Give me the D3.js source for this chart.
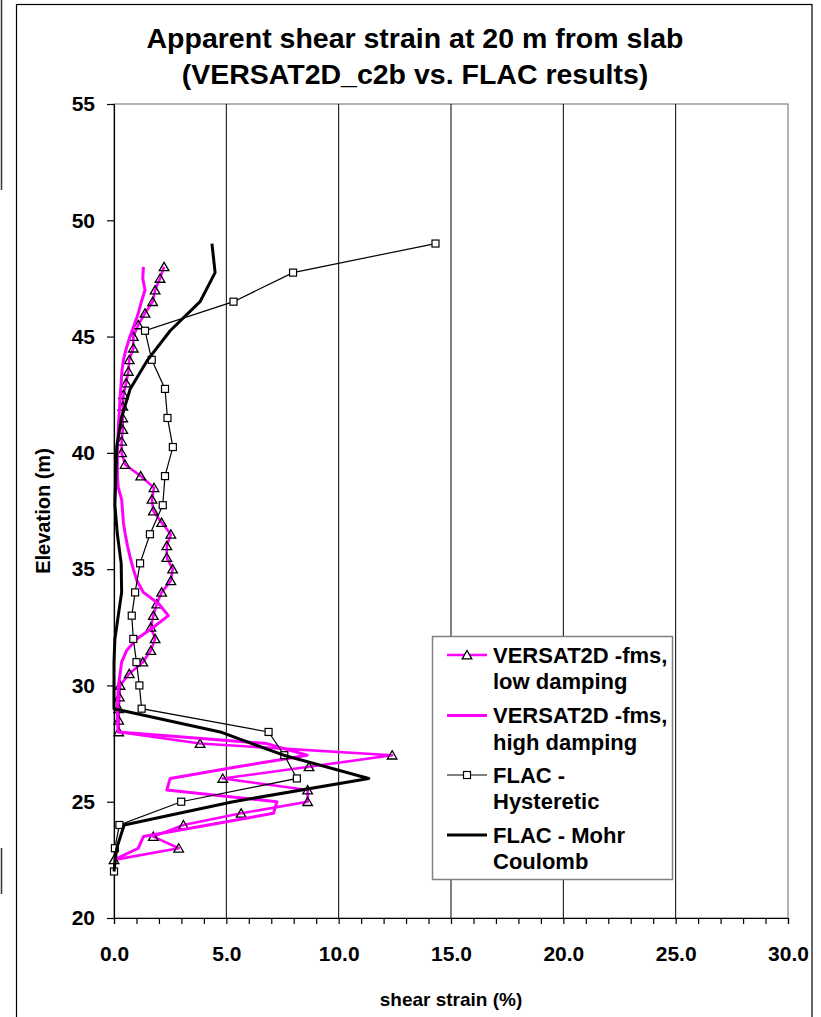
<!DOCTYPE html>
<html><head><meta charset="utf-8">
<script src="https://cdn.jsdelivr.net/npm/d3@7"></script>
<style>
body{margin:0;background:#fff}
svg{display:block;font-family:"Liberation Sans",Arial,Helvetica,sans-serif;font-weight:bold}
</style>
</head><body>
<svg id="c" width="821" height="1017"></svg>
<script>
// ---- data ----
const titleLines = ["Apparent shear strain at 20 m from slab", "(VERSAT2D_c2b vs. FLAC results)"];
const xTitle = "shear strain (%)";
const yTitle = "Elevation (m)";
const xTicks = [0, 5, 10, 15, 20, 25, 30];
const xMinorTicks = [1,2,3,4,6,7,8,9,11,12,13,14,16,17,18,19,21,22,23,24,26,27,28,29];
const yTicks = [20, 25, 30, 35, 40, 45, 50, 55];
const seriesNames = ["VERSAT2D -fms,|low damping", "VERSAT2D -fms,|high damping", "FLAC -|Hysteretic", "FLAC - Mohr|Coulomb"];

const versatElev = [48,47.5,47,46.5,46,45.5,45,44.5,44,43.5,43,42.5,42,41.5,41,40.5,40,39.5,39,38.5,38,37.5,37,36.5,36,35.5,35,34.5,34,33.5,33,32.5,32,31.5,31,30.5,30,29.5,29,28.5,28,27.5,27,26.5,26,25.5,25,24.5,24,23.5,23,22.5];
const versatLow  = [2.23,2.05,1.83,1.72,1.38,1.08,0.86,0.86,0.68,0.64,0.54,0.42,0.39,0.39,0.39,0.34,0.34,0.49,1.19,1.78,1.69,1.75,2.12,2.53,2.35,2.35,2.61,2.53,2.12,1.90,1.75,1.64,1.83,1.64,1.28,0.68,0.27,0.24,0.21,0.21,0.21,3.83,12.38,8.68,4.84,8.62,8.62,5.66,3.09,1.75,2.88,0.0];
const versatHigh = [1.31,1.28,1.38,1.22,1.08,0.90,0.71,0.55,0.42,0.35,0.32,0.28,0.25,0.22,0.19,0.17,0.15,0.15,0.15,0.19,0.34,0.38,0.42,0.50,0.60,0.72,0.86,1.02,1.31,2.00,2.42,1.75,1.01,0.56,0.34,0.27,0.20,0.17,0.15,0.15,0.19,6.80,8.60,5.50,2.50,2.35,7.25,7.10,4.20,1.31,1.08,0.0];

const flacElev = [49,47.75,46.5,45.25,44,42.75,41.5,40.25,39,37.75,36.5,35.25,34,33,32,31,30,29,28,27,26,25,24,23,22];
const flacHyst = [14.31,7.97,5.32,1.38,1.68,2.27,2.38,2.62,2.27,2.17,1.60,1.16,0.94,0.79,0.86,1.00,1.13,1.23,6.88,7.58,8.14,2.99,0.24,0.04,0.0];
const flacMC   = [4.36,4.50,3.83,2.50,1.50,0.72,0.33,0.12,0.08,0.04,0.15,0.32,0.34,0.19,0.04,0,0,0,4.73,7.55,11.34,5.30,0.45,0.12,0.0];

// ---- drawing ----
const svg = d3.select("#c");
const M = {left:114, right:788, top:104, bottom:918};
const x = d3.scaleLinear().domain([0,30]).range([M.left, M.right]);
const y = d3.scaleLinear().domain([20,55]).range([M.bottom, M.top]);
const MAG = "#ff00ff";
const FONT = '"Liberation Sans",Arial,sans-serif';

// outer chart border + stray edge line of neighbouring object
svg.append("rect").attr("x",16.5).attr("y",4.5).attr("width",795.5).attr("height",1030)
  .attr("fill","none").attr("stroke","#000").attr("stroke-width",1.2);
svg.append("line").attr("x1",1.5).attr("x2",1.5).attr("y1",0).attr("y2",190).attr("stroke","#333").attr("stroke-width",1.5);
svg.append("line").attr("x1",1.5).attr("x2",1.5).attr("y1",848).attr("y2",894).attr("stroke","#333").attr("stroke-width",1.5);

// title
svg.append("g").selectAll("text").data(titleLines).join("text")
  .attr("x",415).attr("y",(d,i)=>48+i*36).attr("text-anchor","middle")
  .attr("font-size",28.5).text(d=>d);

// plot border
svg.append("rect").attr("x",M.left).attr("y",M.top).attr("width",M.right-M.left).attr("height",M.bottom-M.top)
  .attr("fill","none").attr("stroke","#808080").attr("stroke-width",1.2);

// vertical gridlines
svg.append("g").selectAll("line").data(xTicks.filter(v=>v>0 && v<30)).join("line")
  .attr("x1",d=>x(d)).attr("x2",d=>x(d)).attr("y1",M.top).attr("y2",M.bottom)
  .attr("stroke","#000").attr("stroke-width",1);

// axes
const yAxis = d3.axisLeft(y).tickValues(yTicks).tickSize(7).tickPadding(12).tickFormat(d3.format("d"));
const gy = svg.append("g").attr("transform",`translate(${M.left},0)`).call(yAxis);
gy.select(".domain").attr("stroke","#000").attr("stroke-width",1.2);
gy.selectAll(".tick line").attr("stroke","#000").attr("stroke-width",1.2);
gy.selectAll(".tick text").attr("font-size",21).attr("font-weight","bold").attr("fill","#000")
  .attr("font-family",FONT);

const xAxis = d3.axisBottom(x).tickValues(xTicks).tickSize(6).tickPadding(22).tickFormat(d3.format(".1f"));
const gx = svg.append("g").attr("transform",`translate(0,${M.bottom})`).call(xAxis);
gx.select(".domain").attr("stroke","#000").attr("stroke-width",1.2);
gx.selectAll(".tick line").attr("stroke","#000").attr("stroke-width",1.2);
gx.selectAll(".tick text").attr("font-size",21).attr("font-weight","bold").attr("fill","#000")
  .attr("font-family",FONT);

const xMinor = d3.axisBottom(x).tickValues(xMinorTicks).tickSize(6).tickFormat("");
const gxm = svg.append("g").attr("transform",`translate(0,${M.bottom})`).call(xMinor);
gxm.select(".domain").remove();
gxm.selectAll(".tick line").attr("stroke","#000").attr("stroke-width",1.2);

// axis titles
svg.append("text").attr("x",(M.left+M.right)/2).attr("y",1006).attr("text-anchor","middle")
  .attr("font-size",19).text(xTitle);
svg.append("text").attr("transform",`translate(50,${(M.top+M.bottom)/2}) rotate(-90)`)
  .attr("text-anchor","middle").attr("font-size",20).text(yTitle);

// series
const mk = (E,V) => E.map((e,i)=>({e, v:V[i]}));
const lowData = mk(versatElev, versatLow);
const highData = mk(versatElev, versatHigh);
const hystData = mk(flacElev, flacHyst);
const mcData = mk(flacElev, flacMC);
const line = d3.line().x(d=>x(d.v)).y(d=>y(d.e));
const triPath = "M0,-4.5L4.8,3.8L-4.8,3.8Z";

const plot = svg.append("g");
// low damping (line + triangles)
plot.append("path").datum(lowData).attr("d",line).attr("fill","none").attr("stroke",MAG)
  .attr("stroke-width",2.6).attr("stroke-linejoin","round");
plot.append("g").selectAll("path").data(lowData).join("path")
  .attr("transform",d=>`translate(${x(d.v)},${y(d.e)})`).attr("d",triPath)
  .attr("fill","none").attr("stroke","#000").attr("stroke-width",1.3);
// high damping
plot.append("path").datum(highData).attr("d",line).attr("fill","none").attr("stroke",MAG)
  .attr("stroke-width",3).attr("stroke-linejoin","round");
// FLAC hysteretic
plot.append("path").datum(hystData).attr("d",line).attr("fill","none").attr("stroke","#000")
  .attr("stroke-width",1.2);
plot.append("g").selectAll("rect").data(hystData).join("rect")
  .attr("x",d=>x(d.v)-3.5).attr("y",d=>y(d.e)-3.5).attr("width",7).attr("height",7)
  .attr("fill","#fff").attr("stroke","#000").attr("stroke-width",1.2);
// FLAC Mohr Coulomb
plot.append("path").datum(mcData).attr("d",line).attr("fill","none").attr("stroke","#000")
  .attr("stroke-width",3).attr("stroke-linejoin","round");

// legend
const lg = svg.append("g");
lg.append("rect").attr("x",432.5).attr("y",636.5).attr("width",240).attr("height",243)
  .attr("fill","#fff").attr("stroke","#808080").attr("stroke-width",1.5);
const legY = [655, 715.5, 775, 835];
const legStyle = [
  {stroke:MAG, w:2.6, marker:"tri"},
  {stroke:MAG, w:3, marker:null},
  {stroke:"#000", w:1.2, marker:"sq"},
  {stroke:"#000", w:3, marker:null}
];
seriesNames.forEach((name,i)=>{
  const cy = legY[i], st = legStyle[i];
  lg.append("line").attr("x1",447).attr("x2",487).attr("y1",cy).attr("y2",cy)
    .attr("stroke",st.stroke).attr("stroke-width",st.w);
  if(st.marker==="tri") lg.append("path").attr("transform",`translate(467,${cy})`).attr("d",triPath)
    .attr("fill","#fff").attr("stroke","#000").attr("stroke-width",1.3);
  if(st.marker==="sq") lg.append("rect").attr("x",463.5).attr("y",cy-3.5).attr("width",7).attr("height",7)
    .attr("fill","#fff").attr("stroke","#000").attr("stroke-width",1.2);
  const t = lg.append("text").attr("x",493).attr("y",cy+7.5).attr("font-size",22);
  name.split("|").forEach((s,j)=>t.append("tspan").attr("x",493).attr("dy",j?26.5:0).text(s));
});
</script>
</body></html>
